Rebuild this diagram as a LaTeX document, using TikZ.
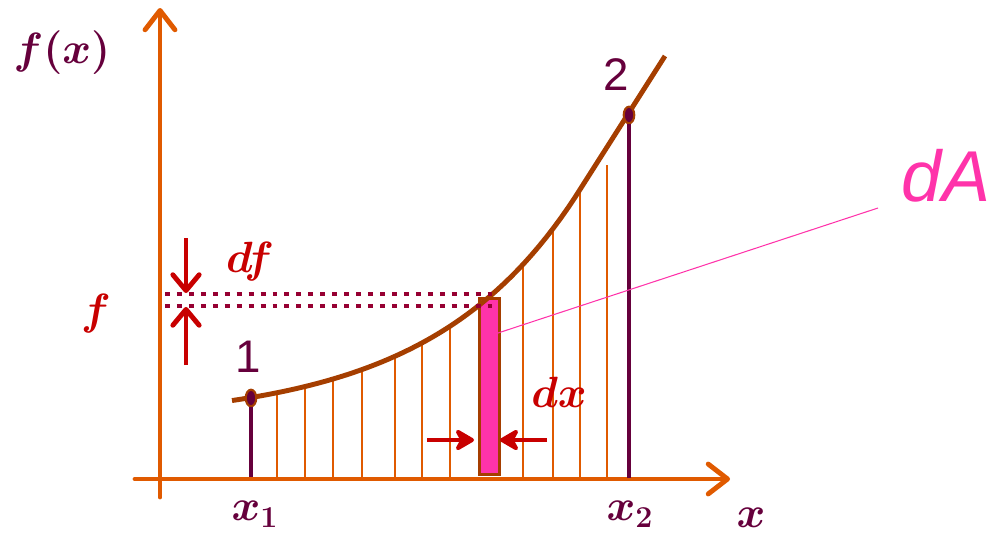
\documentclass[tikz,border=0pt]{standalone}
\usepackage{amsmath,bm}
\usepackage{fontspec}
\setsansfont{Liberation Sans}
\usetikzlibrary{arrows.meta,shapes.geometric}

\definecolor{axisorange}{RGB}{224,90,0}
\definecolor{curvebrown}{RGB}{165,62,0}
\definecolor{plum}{RGB}{102,0,60}
\definecolor{darkred}{RGB}{200,0,0}
\definecolor{dotred}{RGB}{150,0,50}
\definecolor{hotpink}{RGB}{255,51,170}

\begin{document}
\begin{tikzpicture}[x=0.02cm,y=-0.02cm]
\tikzset{
  axis/.style={axisorange,line width=2.8pt,line cap=round,-{Straight Barb[round,length=11pt,width=17pt]}},
  strip/.style={axisorange,line width=1.1pt},
  bound/.style={plum,line width=2.8pt},
  curve/.style={curvebrown,line width=2.8pt},
  guide/.style={dotred,line width=2.8pt,dash pattern=on 2.8pt off 4pt},
  dfarrow/.style={darkred,line width=2.8pt,-{Straight Barb[round,length=9pt,width=15pt]}},
  dxarrow/.style={darkred,line width=2.8pt,-{Stealth[round,length=13pt,width=15pt,inset=4pt]}},
  slab/.style={draw=curvebrown,fill=hotpink,line width=1.5pt,inner sep=0pt},
  ptmark/.style={ellipse,fill=plum,draw=curvebrown,line width=1.2pt,minimum width=6pt,minimum height=9.5pt,inner sep=0pt},
  mathlbl/.style={text=plum,font=\fontsize{24}{28}\selectfont},
  redlbl/.style={text=darkred,font=\fontsize{24}{28}\selectfont},
  ptlbl/.style={text=plum,font=\sffamily\fontsize{26}{30}\selectfont}
}
\useasboundingbox (0,0) rectangle (994,538);

% axes
\coordinate (xs) at (135,479);
\coordinate (xe) at (730,479);
\coordinate (ys) at (160,497);
\coordinate (ye) at (160,8);

% strips under the curve
\foreach \xx/\yy in {277/393,305/387,333/379,362/370,395/356,422/343,450/326,523/265,553/230,580/191,607/165}
  \draw[strip] (\xx,477) -- (\xx,\yy);

% the element dA
\node[slab,minimum width=0.4cm,minimum height=3.52cm,anchor=south west] (slab) at (478,476) {};

\draw[axis] (xs) -- (xe);
\draw[axis] (ys) -- (ye);

% curve and the two end points
\draw[curve] plot[domain=232:582,samples=50] (\x,{390-32.35*(exp(0.0068*(\x-290))-1)}) -- (665,56);
\node[ptmark] (p1) at (251,398) {};
\node[ptmark] (p2) at (629,115) {};
\coordinate (b1) at (251,477);
\coordinate (b2) at (629,478);
\draw[bound] (p1.south) -- (b1);
\draw[bound] (p2.south) -- (b2);

% f and f+df levels
\coordinate (g1) at (165,294);
\coordinate (g2) at (492,294);
\coordinate (g3) at (165,306);
\coordinate (g4) at (492,306);
\draw[guide] (g1) -- (g2);
\draw[guide] (g3) -- (g4);

\coordinate (df1) at (186,238);
\coordinate (df2) at (186,293);
\coordinate (df3) at (186,365);
\coordinate (df4) at (186,307);
\draw[dfarrow] (df1) -- (df2);
\draw[dfarrow] (df3) -- (df4);

\coordinate (dx1) at (427,440);
\coordinate (dx2) at (474,440);
\coordinate (dx3) at (547,440);
\coordinate (dx4) at (500,440);
\draw[dxarrow] (dx1) -- (dx2);
\draw[dxarrow] (dx3) -- (dx4);

% labels
\node[mathlbl] (fx) at (62,53) {$\bm{f(x)}$};
\node[mathlbl] (x1) at (255,514) {$\bm{x_1}$};
\node[mathlbl] (x2) at (630,514) {$\bm{x_2}$};
\node[mathlbl] (xl) at (751,518) {$\bm{x}$};
\node[redlbl] (fl) at (96,314) {$\bm{f}$};
\node[redlbl] (dfl) at (250,262) {$\bm{df}$};
\node[redlbl] (dxl) at (559,392) {$\bm{dx}$};
\node[ptlbl] (n1) at (248,357) {1};
\node[ptlbl] (n2) at (616,75) {2};
\node[text=hotpink,font=\sffamily\itshape\fontsize{41}{48}\selectfont] (dA) at (946,176) {dA};

% leader to dA
\coordinate (lead) at (498,333);
\coordinate (leadend) at (878,208);
\draw[hotpink,line width=0.6pt] (lead) -- (leadend);
\end{tikzpicture}
\end{document}
